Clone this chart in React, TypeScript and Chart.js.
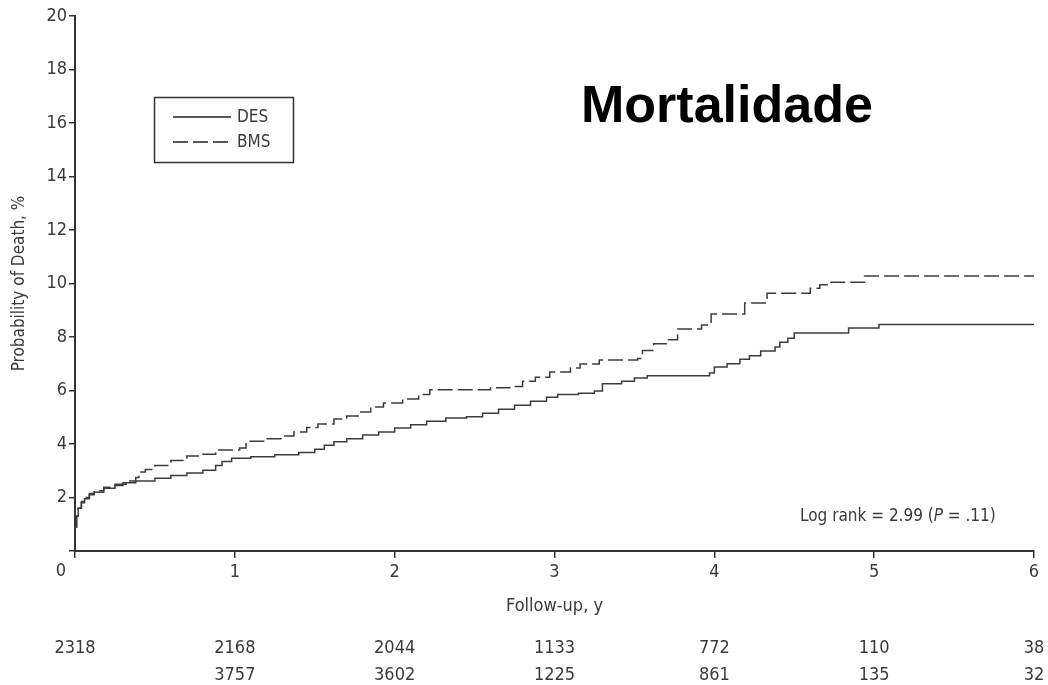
import { useEffect, useRef } from 'react';
import { Chart, registerables } from 'chart.js';

Chart.register(...registerables);

// Kaplan–Meier cumulative mortality (%), step points: value holds from time onward
const desTime = [0, 0.01, 0.02, 0.04, 0.06, 0.09, 0.12, 0.18, 0.25, 0.3, 0.38, 0.5, 0.6, 0.7, 0.8, 0.88, 0.92, 0.98, 1.1, 1.25, 1.4, 1.5, 1.56, 1.62, 1.7, 1.8, 1.9, 2.0, 2.1, 2.2, 2.32, 2.45, 2.55, 2.65, 2.75, 2.85, 2.95, 3.02, 3.15, 3.25, 3.3, 3.42, 3.5, 3.58, 3.97, 4.0, 4.08, 4.16, 4.22, 4.29, 4.38, 4.41, 4.46, 4.5, 4.84, 5.03, 6.0];
const desProb = [0.9, 1.3, 1.6, 1.8, 1.95, 2.1, 2.2, 2.35, 2.45, 2.55, 2.62, 2.72, 2.82, 2.92, 3.02, 3.2, 3.35, 3.47, 3.52, 3.6, 3.68, 3.8, 3.95, 4.08, 4.2, 4.34, 4.45, 4.6, 4.72, 4.85, 4.97, 5.02, 5.15, 5.3, 5.45, 5.6, 5.75, 5.85, 5.9, 5.98, 6.25, 6.35, 6.47, 6.55, 6.65, 6.88, 7.0, 7.17, 7.3, 7.48, 7.63, 7.8, 7.95, 8.15, 8.34, 8.47, 8.47];

const bmsTime = [0, 0.01, 0.02, 0.04, 0.06, 0.09, 0.12, 0.18, 0.25, 0.32, 0.38, 0.4, 0.44, 0.5, 0.6, 0.7, 0.8, 0.88, 1.03, 1.07, 1.2, 1.3, 1.37, 1.45, 1.52, 1.62, 1.7, 1.78, 1.85, 1.93, 2.05, 2.15, 2.22, 2.6, 2.72, 2.8, 2.88, 2.97, 3.1, 3.16, 3.28, 3.52, 3.55, 3.62, 3.7, 3.77, 3.92, 3.98, 4.19, 4.33, 4.6, 4.66, 4.73, 4.94, 6.0];
const bmsProb = [0.9, 1.3, 1.6, 1.85, 2.0, 2.15, 2.25, 2.38, 2.5, 2.62, 2.75, 2.95, 3.05, 3.2, 3.38, 3.55, 3.62, 3.78, 3.85, 4.1, 4.2, 4.3, 4.45, 4.62, 4.75, 4.93, 5.05, 5.2, 5.38, 5.53, 5.68, 5.85, 6.03, 6.1, 6.15, 6.35, 6.5, 6.69, 6.84, 6.99, 7.14, 7.2, 7.5, 7.75, 7.9, 8.3, 8.45, 8.86, 9.27, 9.64, 9.82, 9.95, 10.05, 10.28, 10.28];

// Numbers at risk at each yearly tick
const riskYears = [0, 1, 2, 3, 4, 5, 6];
const riskDES = [2318, 2168, 2044, 1133, 772, 110, 38];
const riskBMS = [null, 3757, 3602, 1225, 861, 135, 32];

const seriesLabels = ['DES', 'BMS'];
const titleText = 'Mortalidade';
const logRankParts = ['Log rank = 2.99 (', 'P', ' = .11)'];

const NARROW = '"Liberation Sans Narrow", "DejaVu Sans Condensed", "Arial Narrow", sans-serif';
const INK = '#3a3a3a';
const LINE = '#3c3c3c';

const extrasPlugin = {
  id: 'kmExtras',
  afterDraw(chart: any) {
    const ctx = chart.ctx as CanvasRenderingContext2D;
    const xs = chart.scales.x;
    ctx.save();

    // origin label of the time axis sits a little left of its tick
    ctx.fillStyle = INK;
    ctx.font = `18px ${NARROW}`;
    ctx.textAlign = 'center';
    ctx.textBaseline = 'top';
    ctx.fillText('0', xs.getPixelForValue(0) - 14, xs.top + 11);

    // legend box
    ctx.strokeStyle = '#333';
    ctx.lineWidth = 1.5;
    ctx.strokeRect(154.5, 97.5, 139, 65);
    const rows = [117, 142];
    chart.data.datasets.forEach((ds: any, i: number) => {
      ctx.beginPath();
      ctx.setLineDash(ds.borderDash || []);
      ctx.strokeStyle = '#222';
      ctx.lineWidth = 1.5;
      ctx.moveTo(173, rows[i]);
      ctx.lineTo(231, rows[i]);
      ctx.stroke();
      ctx.setLineDash([]);
      ctx.fillStyle = INK;
      ctx.font = `17px ${NARROW}`;
      ctx.textAlign = 'left';
      ctx.textBaseline = 'middle';
      ctx.fillText(ds.label, 237, rows[i] + 1);
    });

    // big heading
    ctx.fillStyle = '#000';
    ctx.font = 'bold 52px "Liberation Sans", Arial, sans-serif';
    ctx.textAlign = 'left';
    ctx.textBaseline = 'alphabetic';
    ctx.fillText(titleText, 581, 122);

    // log-rank annotation
    ctx.fillStyle = INK;
    ctx.textBaseline = 'middle';
    let x = 800;
    logRankParts.forEach((part, i) => {
      ctx.font = `${i === 1 ? 'italic ' : ''}17px ${NARROW}`;
      ctx.fillText(part, x, 517);
      x += ctx.measureText(part).width;
    });

    // numbers at risk
    ctx.font = `18px ${NARROW}`;
    ctx.textAlign = 'center';
    riskYears.forEach((yr, i) => {
      const px = xs.getPixelForValue(yr);
      if (riskDES[i] != null) ctx.fillText(String(riskDES[i]), px, 648);
      if (riskBMS[i] != null) ctx.fillText(String(riskBMS[i]), px, 675);
    });

    ctx.restore();
  },
};

export default function App() {
  const ref = useRef<HTMLCanvasElement>(null);

  useEffect(() => {
    if (!ref.current) return;
    const chart = new Chart(ref.current, {
      type: 'line',
      data: {
        datasets: [
          {
            label: seriesLabels[0],
            data: desTime.map((t, i) => ({ x: t, y: desProb[i] })),
            borderColor: LINE,
            borderWidth: 1.5,
            pointRadius: 0,
            stepped: true,
            fill: false,
          },
          {
            label: seriesLabels[1],
            data: bmsTime.map((t, i) => ({ x: t, y: bmsProb[i] })),
            borderColor: LINE,
            borderWidth: 1.5,
            borderDash: [15, 5],
            pointRadius: 0,
            stepped: true,
            fill: false,
          },
        ],
      },
      options: {
        animation: false,
        responsive: true,
        maintainAspectRatio: false,
        layout: { padding: { top: 16, right: 14, left: 0, bottom: 0 } },
        plugins: { legend: { display: false }, tooltip: { enabled: false } },
        scales: {
          x: {
            type: 'linear',
            min: 0,
            max: 6,
            afterFit: (s: any) => { s.height = 134; },
            ticks: {
              stepSize: 1,
              color: INK,
              font: { family: NARROW, size: 18 },
              padding: 4,
              maxRotation: 0,
              callback: (v: any) => (v === 0 ? '' : String(v)),
            },
            grid: { drawOnChartArea: false, drawTicks: true, tickLength: 7, color: '#333', lineWidth: 1.5 },
            border: { display: true, color: '#333', width: 2 },
            title: {
              display: true,
              text: 'Follow-up, y',
              color: INK,
              font: { family: NARROW, size: 18 },
              padding: { top: 0, bottom: 68 },
            },
          },
          y: {
            min: 0,
            max: 20,
            afterFit: (s: any) => { s.width = 75; },
            ticks: {
              stepSize: 2,
              color: INK,
              font: { family: NARROW, size: 18 },
              padding: 2,
              callback: (v: any) => (v === 0 ? '' : String(v)),
            },
            grid: { drawOnChartArea: false, drawTicks: true, tickLength: 6, color: '#333', lineWidth: 1.5 },
            border: { display: true, color: '#333', width: 2 },
            title: {
              display: true,
              text: 'Probability of Death, %',
              color: INK,
              font: { family: NARROW, size: 17 },
              padding: { top: 9, bottom: 0 },
            },
          },
        },
      },
      plugins: [extrasPlugin],
    });
    return () => chart.destroy();
  }, []);

  return (
    <div style={{ position: 'absolute', left: 0, top: 0, width: 1048, height: 685, background: '#fff' }}>
      <canvas ref={ref} />
    </div>
  );
}
